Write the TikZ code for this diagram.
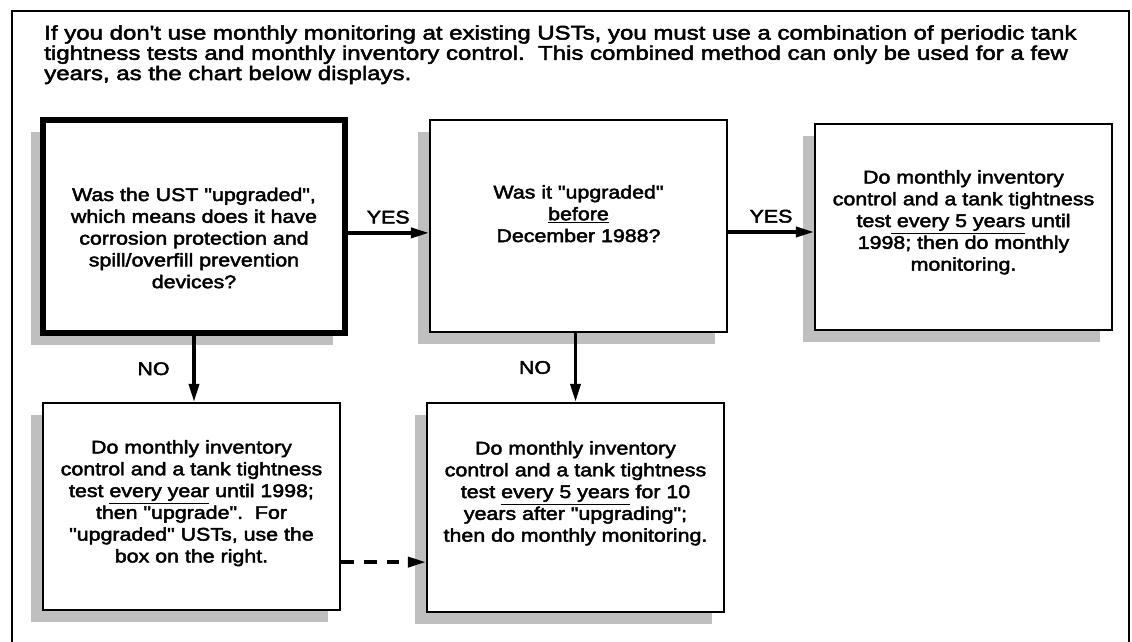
\documentclass[tikz,border=0pt]{standalone}
\usepackage{fontspec}
\newfontfamily\chartfont{Liberation Sans}[FakeStretch=1.17,FakeBold=2.5]
\newfontfamily\introfont{Liberation Sans}[FakeStretch=1.22,FakeBold=2.5]
\usetikzlibrary{arrows.meta,shadows}

\begin{document}
\begin{tikzpicture}[
	>={Triangle[length=0.45cm,width=0.25cm]},
	font = \chartfont\fontsize{13}{15.5}\selectfont,
	box/.style = {
		draw,
		fill = white,
		line width = 1.5pt,
		minimum width = 7.425cm,
		drop shadow = {shadow xshift=-0.3cm, shadow yshift=-0.3cm, fill=black!25, opacity=1}
	},
	txt/.style = {
		anchor = north,
		align = center,
		inner sep = 0pt
	},
	link/.style = {
		->,
		line width = 2.5pt
	}
	]
	\useasboundingbox (0,0) rectangle (28.3,16.025);
	\draw[line width=1.2pt] (0.3,-0.5) -- (0.3,15.75) -- (28.225,15.75) -- (28.225,-0.5);
	\node[anchor=north west, align=left, inner sep=0pt, font=\introfont\fontsize{14}{14.4}\selectfont] (intro) at (1.1,15.4)
		{If you don't use monthly monitoring at existing USTs, you must use a combination of periodic tank\\
		tightness tests and monthly inventory control.\ \ This combined method can only be used for a few\\
		years, as the chart below displays.};

	\node[box, line width=3.6pt, minimum width=7.55cm, minimum height=5.325cm] (q1) at (4.85,10.3625) {};
	\node[box, minimum height=5.3cm] (q2) at (14.4625,10.375) {};
	\node[box, minimum height=5.15cm] (q3) at (24.0875,10.35) {};
	\node[box, minimum height=5.175cm] (q4) at (4.7875,3.3625) {};
	\node[box, minimum height=5.225cm] (q5) at (14.3875,3.3375) {};

	\node[txt] (q1t) at ([yshift=-1.75cm]q1.north) {Was the UST "upgraded",\\ which means does it have\\ corrosion protection and\\ spill/overfill prevention\\ devices?};
	\node[txt] (q2t) at ([yshift=-1.65cm]q2.north) {Was it "upgraded"\\ \underline{before}\\ December 1988?};
	\node[txt] (q3t) at ([yshift=-1.175cm]q3.north) {Do monthly inventory\\ control and a tank tightness\\ test\underline{ every 5 years} until\\ 1998; then do monthly\\ monitoring.};
	\node[txt] (q4t) at ([yshift=-0.95cm]q4.north) {Do monthly inventory\\ control and a tank tightness\\ test \underline{every year} until 1998;\\ then "upgrade".\ \ For\\ "upgraded" USTs, use the\\ box on the right.};
	\node[txt] (q5t) at ([yshift=-0.975cm]q5.north) {Do monthly inventory\\ control and a tank tightness\\ test \underline{every 5 years} for 10\\ years after "upgrading";\\ then do monthly monitoring.};

	\draw[link] ([yshift=-0.16cm]q1.east) coordinate (y1) -- (y1 -| q2.west) node[midway, above=2pt] (yes1) {YES};
	\draw[link] ([yshift=-0.15cm]q2.east) coordinate (y2) -- (y2 -| q3.west) node[midway, above=2pt] (yes2) {YES};
	\draw[link] (q1.south) -- (q1.south |- q4.north) node[midway, left=0.45cm] (no1) {NO};
	\draw[link] (q5.north |- q2.south) -- (q5.north) node[midway, left=0.45cm] (no2) {NO};
	\draw[link, dash pattern=on 0.32cm off 0.25cm] ([yshift=-1.39cm]q4.east) coordinate (d) -- (d -| q5.west);
\end{tikzpicture}
\end{document}
